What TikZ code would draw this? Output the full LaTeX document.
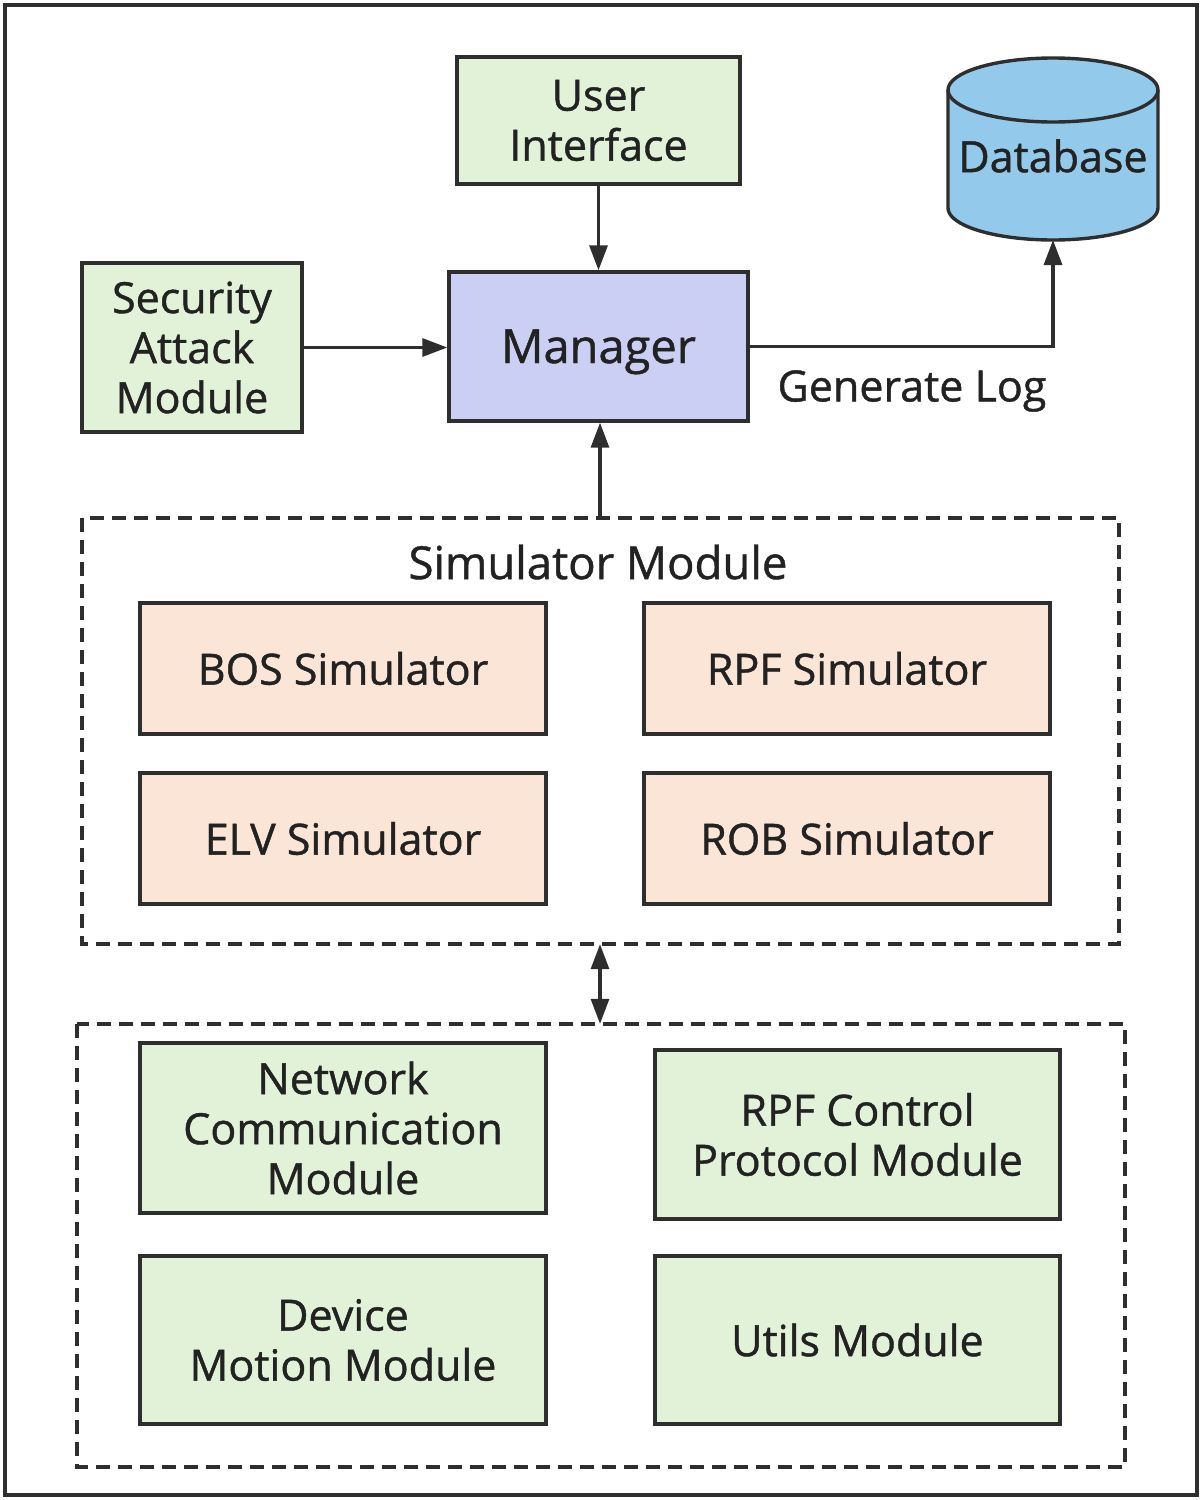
\documentclass[tikz,border=0pt]{standalone}
\usepackage{fontspec}
\setmainfont{Open Sans}[FakeBold=1.0]
\usetikzlibrary{arrows.meta}
\definecolor{linec}{HTML}{2E2E2E}
\definecolor{txtc}{HTML}{222222}
\definecolor{greenf}{HTML}{E2F2D9}
\definecolor{peachf}{HTML}{FBE5D6}
\definecolor{lavf}{HTML}{CCCFF4}
\definecolor{bluef}{HTML}{93C9EB}
\tikzset{
  box/.style={draw=linec, line width=3.4pt, align=center, text=txtc, inner sep=0pt,
    font=\fontsize{43}{50}\selectfont},
  greenbox/.style={box, fill=greenf},
  peachbox/.style={box, fill=peachf},
  groupbox/.style={draw=linec, line width=3.2pt, dash pattern=on 14pt off 8pt},
  lbl/.style={text=txtc, font=\fontsize{43}{50}\selectfont, inner sep=0pt},
  conn/.style={draw=linec, line width=3.2pt, -{Triangle[length=25pt,width=18pt]}},
  conn2/.style={draw=linec, line width=3.2pt, {Triangle[length=25pt,width=18pt]}-{Triangle[length=25pt,width=18pt]}}
}
\begin{document}
\begin{tikzpicture}[x=1pt,y=1pt]
\useasboundingbox (0,0) rectangle (1204,-1500);
\draw[linec, line width=3.4pt] (5,-5) rectangle (1197,-1495);

% top row
\node[greenbox, minimum width=283pt, minimum height=127pt] (ui) at (598.5,-120.5) {User\\Interface};
\node[box, fill=lavf, minimum width=299pt, minimum height=149pt, font=\fontsize{47}{54}\selectfont,
  text height=33pt, text depth=0pt] (mgr) at (598.5,-346.5) {Manager};
\node[greenbox, minimum width=220pt, minimum height=169pt] (sec) at (192,-347.5) {Security\\Attack\\Module};

% database cylinder
\filldraw[fill=bluef, draw=linec, line width=3.4pt]
  (948,-90) -- (948,-208) arc[start angle=180, end angle=360, x radius=105, y radius=32]
  -- (1158,-90) arc[start angle=0, end angle=180, x radius=105, y radius=32] -- cycle;
\draw[linec, line width=3.4pt] (948,-90) arc[start angle=180, end angle=360, x radius=105, y radius=32];
\node[lbl] (db) at (1053,-156) {Database};
\coordinate (dbb) at (1053,-240);

% simulator group
\draw[groupbox] (82,-518) rectangle (1119,-944);
\node[inner sep=0pt, minimum width=1037pt, minimum height=426pt] (sim) at (600.5,-731) {};
\node[lbl, font=\fontsize{45.5}{52}\selectfont] (simtitle) at (598,-562) {Simulator Module};
\node[peachbox, minimum width=406pt, minimum height=131pt] (bos) at (343,-668.5) {BOS Simulator};
\node[peachbox, minimum width=406pt, minimum height=131pt] (rpf) at (847,-668.5) {RPF Simulator};
\node[peachbox, minimum width=406pt, minimum height=131pt] (elv) at (343,-838.5) {ELV Simulator};
\node[peachbox, minimum width=406pt, minimum height=131pt] (rob) at (847,-838.5) {ROB Simulator};

% lower group
\draw[groupbox] (77,-1024) rectangle (1125,-1467);
\node[inner sep=0pt, minimum width=1048pt, minimum height=443pt] (bot) at (601,-1245.5) {};
\node[greenbox, minimum width=406pt, minimum height=170pt] (net) at (343,-1128) {Network\\Communication\\Module};
\node[greenbox, minimum width=405pt, minimum height=169pt] (ctl) at (857.5,-1134.5) {RPF Control\\Protocol Module};
\node[greenbox, minimum width=406pt, minimum height=168pt] (dev) at (343,-1340) {Device\\Motion Module};
\node[greenbox, minimum width=405pt, minimum height=168pt] (utl) at (857.5,-1340) {Utils Module};

% connectors
\draw[conn] (ui.south) -- (mgr.north);
\draw[conn] (sec.east) -- (sec.east -| mgr.west);
\draw[conn] (mgr.east) -| (dbb);
\node[lbl] (glog) at (912,-391) {Generate Log};
\draw[conn] (sim.north -| 600,0) -- (mgr.south -| 600,0);
\draw[conn2] (sim.south -| 600,0) -- (bot.north -| 600,0);
\end{tikzpicture}
\end{document}
